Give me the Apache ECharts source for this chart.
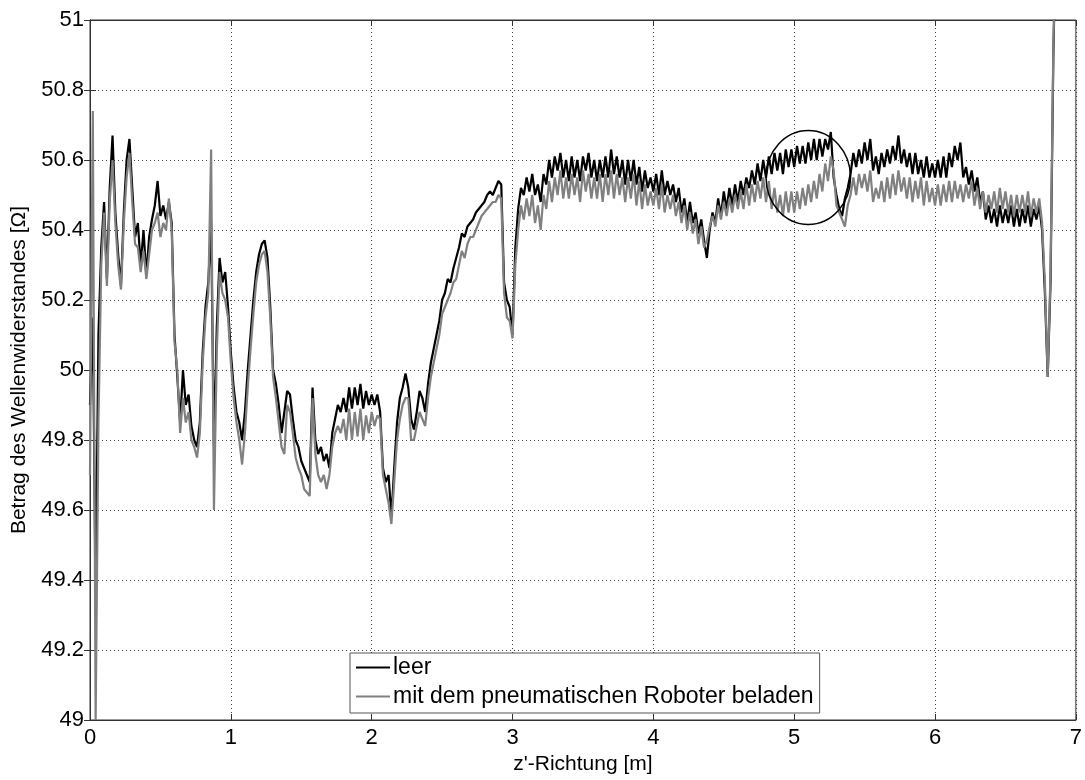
<!DOCTYPE html>
<html>
<head>
<meta charset="utf-8">
<title>Wellenwiderstand entlang z'</title>
<script src="https://cdn.jsdelivr.net/npm/echarts@6/dist/echarts.min.js"></script>
<style>
  html, body { margin: 0; padding: 0; background: #fff; }
  #chart { width: 1085px; height: 780px; }
</style>
</head>
<body>
<div id="chart"></div>
<script>
// Sampling of the measured traces along z' (m)
const zStart = 0;
const zStep = 0.02;

// |Z| of the empty line ("leer"), one value per sample, rows of 0.2 m
const leer = [
  49.90, 50.15, 49.35, 50.10, 50.35, 50.48, 50.26, 50.52, 50.67, 50.45,
  50.33, 50.24, 50.45, 50.60, 50.66, 50.52, 50.38, 50.42, 50.30, 50.40,
  50.27, 50.38, 50.43, 50.47, 50.54, 50.44, 50.47, 50.43, 50.48, 50.42,
  50.10, 49.98, 49.85, 50.00, 49.90, 49.93, 49.84, 49.80, 49.78, 49.85,
  50.05, 50.18, 50.25, 50.42, 49.78, 50.12, 50.32, 50.25, 50.28, 50.18,
  50.05, 49.95, 49.88, 49.85, 49.80, 49.88, 50.00, 50.10, 50.20, 50.28,
  50.33, 50.36, 50.37, 50.32, 50.18, 50.00, 49.96, 49.90, 49.82, 49.88,
  49.94, 49.93, 49.86, 49.80, 49.78, 49.74, 49.72, 49.70, 49.68, 49.95,
  49.80, 49.76, 49.78, 49.74, 49.76, 49.72, 49.82, 49.86, 49.90, 49.88,
  49.92, 49.88, 49.95, 49.89, 49.95, 49.90, 49.96, 49.89, 49.94, 49.90,
  49.93, 49.90, 49.93, 49.88, 49.72, 49.68, 49.70, 49.58, 49.72, 49.85,
  49.92, 49.95, 49.99, 49.95, 49.86, 49.83, 49.88, 49.94, 49.92, 49.88,
  49.96, 50.02, 50.06, 50.10, 50.14, 50.20, 50.22, 50.26, 50.25, 50.29,
  50.32, 50.35, 50.39, 50.38, 50.41, 50.42, 50.43, 50.45, 50.46, 50.47,
  50.48, 50.50, 50.51, 50.50, 50.52, 50.54, 50.53, 50.25, 50.20, 50.18,
  50.10, 50.35, 50.46, 50.52, 50.50, 50.55, 50.51, 50.56, 50.50, 50.53,
  50.48, 50.56, 50.53, 50.60, 50.55, 50.61, 50.57, 50.62, 50.55, 50.60,
  50.54, 50.61, 50.55, 50.60, 50.54, 50.61, 50.57, 50.62, 50.55, 50.60,
  50.54, 50.60, 50.55, 50.61, 50.55, 50.63, 50.56, 50.61, 50.55, 50.60,
  50.53, 50.60, 50.54, 50.60, 50.53, 50.58, 50.51, 50.57, 50.52, 50.55,
  50.51, 50.56, 50.50, 50.57, 50.50, 50.54, 50.50, 50.53, 50.48, 50.52,
  50.45, 50.49, 50.42, 50.48, 50.42, 50.45, 50.39, 50.43, 50.37, 50.32,
  50.40, 50.45, 50.42, 50.49, 50.44, 50.51, 50.46, 50.52, 50.47, 50.53,
  50.48, 50.54, 50.50, 50.55, 50.52, 50.57, 50.53, 50.59, 50.54, 50.60,
  50.55, 50.61, 50.56, 50.62, 50.57, 50.62, 50.56, 50.63, 50.58, 50.63,
  50.58, 50.64, 50.59, 50.64, 50.59, 50.65, 50.60, 50.66, 50.60, 50.66,
  50.61, 50.66, 50.63, 50.68, 50.55, 50.50, 50.46, 50.44, 50.49, 50.52,
  50.56, 50.62, 50.58, 50.63, 50.59, 50.65, 50.60, 50.66, 50.57, 50.61,
  50.56, 50.62, 50.58, 50.63, 50.59, 50.64, 50.60, 50.67, 50.59, 50.63,
  50.58, 50.62, 50.56, 50.62, 50.56, 50.60, 50.55, 50.61, 50.55, 50.59,
  50.55, 50.60, 50.55, 50.61, 50.55, 50.62, 50.58, 50.64, 50.60, 50.65,
  50.55, 50.58, 50.53, 50.57, 50.51, 50.55, 50.48, 50.51, 50.43, 50.47,
  50.42, 50.46, 50.41, 50.47, 50.42, 50.46, 50.42, 50.47, 50.41, 50.46,
  50.41, 50.46, 50.42, 50.47, 50.41, 50.46, 50.43, 50.47, 50.40, 50.22,
  49.98, 50.25, 50.90, 51.30
];

// |Z| with the pneumatic robot on board
const beladen = [
  49.70, 50.74, 49.00, 49.85, 50.30, 50.45, 50.24, 50.48, 50.60, 50.42,
  50.30, 50.23, 50.42, 50.55, 50.62, 50.48, 50.36, 50.35, 50.28, 50.34,
  50.26, 50.33, 50.40, 50.42, 50.45, 50.38, 50.42, 50.40, 50.49, 50.40,
  50.08, 50.00, 49.82, 49.92, 49.85, 49.88, 49.80, 49.78, 49.75, 49.82,
  50.02, 50.15, 50.22, 50.63, 49.60, 50.05, 50.28, 50.22, 50.20, 50.15,
  50.02, 49.92, 49.85, 49.80, 49.73, 49.82, 49.95, 50.06, 50.16, 50.25,
  50.30, 50.33, 50.34, 50.28, 50.15, 49.98, 49.92, 49.85, 49.78, 49.76,
  49.90, 49.88, 49.82, 49.75, 49.72, 49.70, 49.66, 49.65, 49.64, 49.92,
  49.76, 49.70, 49.68, 49.70, 49.66, 49.70, 49.78, 49.82, 49.84, 49.82,
  49.86, 49.80, 49.89, 49.80, 49.88, 49.81, 49.89, 49.80, 49.87, 49.82,
  49.88, 49.84, 49.87, 49.86, 49.70, 49.66, 49.62, 49.56, 49.68, 49.80,
  49.86, 49.90, 49.92, 49.92, 49.80, 49.80, 49.84, 49.88, 49.86, 49.84,
  49.92, 49.98, 50.02, 50.06, 50.10, 50.16, 50.18, 50.20, 50.22, 50.25,
  50.26, 50.30, 50.34, 50.32, 50.36, 50.38, 50.38, 50.40, 50.42, 50.44,
  50.45, 50.46, 50.47, 50.48, 50.48, 50.50, 50.49, 50.22, 50.15, 50.14,
  50.09, 50.30, 50.40, 50.47, 50.43, 50.49, 50.44, 50.50, 50.42, 50.47,
  50.40, 50.50, 50.46, 50.54, 50.48, 50.55, 50.50, 50.57, 50.49, 50.55,
  50.49, 50.56, 50.50, 50.55, 50.48, 50.57, 50.51, 50.56, 50.49, 50.55,
  50.49, 50.56, 50.48, 50.56, 50.50, 50.57, 50.49, 50.56, 50.50, 50.55,
  50.48, 50.55, 50.49, 50.56, 50.47, 50.54, 50.46, 50.53, 50.47, 50.51,
  50.47, 50.52, 50.46, 50.53, 50.45, 50.50, 50.46, 50.50, 50.44, 50.48,
  50.42, 50.47, 50.40, 50.45, 50.39, 50.43, 50.36, 50.41, 50.35, 50.37,
  50.41, 50.44, 50.41, 50.47, 50.43, 50.48, 50.44, 50.49, 50.45, 50.50,
  50.46, 50.51, 50.46, 50.53, 50.47, 50.53, 50.48, 50.54, 50.49, 50.55,
  50.48, 50.54, 50.46, 50.52, 50.45, 50.50, 50.44, 50.51, 50.45, 50.51,
  50.45, 50.51, 50.46, 50.52, 50.47, 50.53, 50.48, 50.54, 50.49, 50.56,
  50.51, 50.59, 50.54, 50.61, 50.57, 50.47, 50.45, 50.43, 50.41, 50.47,
  50.50, 50.55, 50.50, 50.56, 50.52, 50.56, 50.51, 50.57, 50.48, 50.52,
  50.49, 50.54, 50.48, 50.55, 50.49, 50.56, 50.50, 50.57, 50.51, 50.55,
  50.49, 50.55, 50.48, 50.54, 50.49, 50.55, 50.47, 50.54, 50.48, 50.52,
  50.47, 50.53, 50.47, 50.53, 50.48, 50.54, 50.48, 50.54, 50.49, 50.53,
  50.48, 50.53, 50.49, 50.54, 50.47, 50.52, 50.46, 50.51, 50.45, 50.50,
  50.46, 50.51, 50.45, 50.52, 50.46, 50.51, 50.45, 50.50, 50.44, 50.50,
  50.45, 50.50, 50.45, 50.51, 50.44, 50.49, 50.45, 50.49, 50.42, 50.25,
  49.98, 50.28, 50.92, 51.30
];

// Highlighted region (centre in data units, half-axes in data units)
const markCenter = [5.10, 50.55];
const markRadius = [0.30, 0.134];

// Axis tick settings
const xTicks = { min: 0, max: 7, interval: 1 };
const yTicks = { min: 49, max: 51, interval: 0.2 };

const seriesNames = ['leer', 'mit dem pneumatischen Roboter beladen'];

function toPairs(values) {
  return values.map((v, i) => [+(zStart + i * zStep).toFixed(3), v]);
}

const FONT = '"Liberation Sans", Arial, Helvetica, sans-serif';
const AXIS_COLOR = '#333';

const chart = echarts.init(document.getElementById('chart'), null, { renderer: 'canvas' });

const tickStyle = { show: true, inside: true, length: 6, lineStyle: { color: AXIS_COLOR } };

chart.setOption({
  animation: false,
  backgroundColor: '#fff',
  textStyle: { fontFamily: FONT },
  grid: {
    left: 90, right: 5, top: 20, bottom: 52,
    show: true, borderColor: AXIS_COLOR, borderWidth: 1, backgroundColor: '#fff'
  },
  legend: {
    data: seriesNames,
    orient: 'vertical',
    left: 350, top: 653,
    padding: [3, 6, 5, 6],
    itemGap: 6,
    itemWidth: 34, itemHeight: 2,
    icon: 'rect',
    backgroundColor: '#fff',
    borderColor: '#555', borderWidth: 1,
    textStyle: { fontSize: 23, color: '#000', fontFamily: FONT, padding: [0, 0, 0, -2] },
    selectedMode: false
  },
  xAxis: [
    {
      type: 'value', position: 'bottom', ...xTicks,
      name: "z'-Richtung [m]", nameLocation: 'middle', nameGap: 34,
      nameTextStyle: { fontSize: 21, color: '#000', fontFamily: FONT },
      axisLine: { show: true, lineStyle: { color: AXIS_COLOR } },
      axisTick: tickStyle,
      axisLabel: { fontSize: 22, color: '#000', margin: 7, fontFamily: FONT },
      splitLine: { show: true, lineStyle: { color: '#444', type: [1, 3], width: 1 } }
    },
    {
      type: 'value', position: 'top', ...xTicks,
      axisLine: { show: true, lineStyle: { color: AXIS_COLOR } },
      axisTick: tickStyle,
      axisLabel: { show: false },
      splitLine: { show: false }
    }
  ],
  yAxis: [
    {
      type: 'value', position: 'left', ...yTicks,
      name: 'Betrag des Wellenwiderstandes [Ω]', nameLocation: 'middle', nameGap: 60,
      nameTextStyle: { fontSize: 21, color: '#000', fontFamily: FONT },
      axisLine: { show: true, lineStyle: { color: AXIS_COLOR } },
      axisTick: tickStyle,
      axisLabel: {
        fontSize: 22, color: '#000', margin: 6, fontFamily: FONT,
        formatter: v => String(Math.round(v * 10) / 10)
      },
      splitLine: { show: true, lineStyle: { color: '#444', type: [1, 3], width: 1 } }
    },
    {
      type: 'value', position: 'right', ...yTicks,
      axisLine: { show: true, lineStyle: { color: AXIS_COLOR } },
      axisTick: tickStyle,
      axisLabel: { show: false },
      splitLine: { show: false }
    }
  ],
  series: [
    {
      name: seriesNames[0], type: 'line', xAxisIndex: 0, yAxisIndex: 0,
      data: toPairs(leer), showSymbol: false, symbol: 'none', clip: true,
      lineStyle: { color: '#000', width: 2.2 }, itemStyle: { color: '#000' },
      silent: true, z: 2
    },
    {
      name: seriesNames[1], type: 'line', xAxisIndex: 0, yAxisIndex: 0,
      data: toPairs(beladen), showSymbol: false, symbol: 'none', clip: true,
      lineStyle: { color: '#808080', width: 2.2 }, itemStyle: { color: '#808080' },
      silent: true, z: 3
    },
    {
      type: 'custom', xAxisIndex: 0, yAxisIndex: 0, silent: true, z: 4,
      data: [markCenter],
      renderItem: function (params, api) {
        const c = api.coord([api.value(0), api.value(1)]);
        const s = api.size([markRadius[0], markRadius[1]]);
        return {
          type: 'ellipse',
          shape: { cx: c[0], cy: c[1], rx: s[0], ry: s[1] },
          style: { fill: 'none', stroke: '#000', lineWidth: 1.5 }
        };
      }
    }
  ]
});
</script>
</body>
</html>
